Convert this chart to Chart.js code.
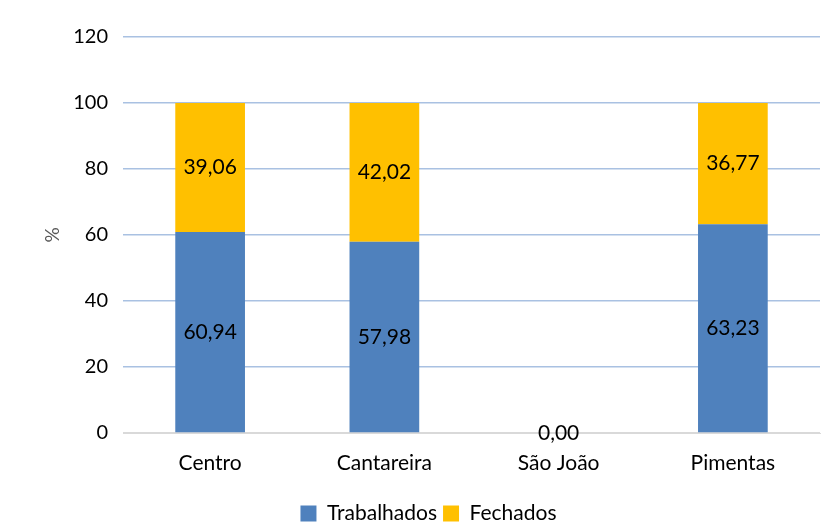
<!DOCTYPE html>
<html>
<head>
<meta charset="utf-8">
<script src="https://cdn.jsdelivr.net/npm/chart.js@4"></script>
<style>
  html, body { margin: 0; padding: 0; background: #fff; }
  #wrap { width: 829px; height: 527px; }
</style>
</head>
<body>
<div id="wrap"><canvas id="grafico"></canvas></div>
<script>
/* Dados */
const categorias = ["Centro", "Cantareira", "São João", "Pimentas"];
const trabalhados = [60.94, 57.98, 0, 63.23];
const fechados = [39.06, 42.02, 0, 36.77];
const ticksY = [0, 20, 40, 60, 80, 100, 120];

const fonte = "Lato, 'Open Sans', sans-serif";

/* rótulos dentro das barras */
const rotulos = {
  id: "rotulos",
  afterDatasetsDraw(chart) {
    const ctx = chart.ctx;
    ctx.save();
    ctx.font = "21px " + fonte;
    ctx.fillStyle = "#000";
    ctx.textAlign = "center";
    ctx.textBaseline = "middle";
    chart.data.datasets.forEach((ds, i) => {
      const meta = chart.getDatasetMeta(i);
      meta.data.forEach((bar, j) => {
        const v = ds.data[j];
        if (i === 1 && v === 0) return; // evita repetir 0,00
        const y = (bar.y + bar.base) / 2;
        ctx.fillText(v.toFixed(2).replace(".", ","), bar.x, y);
      });
    });
    ctx.restore();
  }
};

new Chart(document.getElementById("grafico"), {
  type: "bar",
  data: {
    labels: categorias,
    datasets: [
      { label: "Trabalhados", data: trabalhados, backgroundColor: "#4F81BD", barPercentage: 0.4, categoryPercentage: 1 },
      { label: "Fechados", data: fechados, backgroundColor: "#FFC000", barPercentage: 0.4, categoryPercentage: 1 }
    ]
  },
  options: {
    responsive: true,
    maintainAspectRatio: false,
    animation: false,
    layout: { padding: { top: 37, right: 9, left: 37, bottom: -7 } },
    plugins: {
      legend: {
        position: "bottom",
        labels: { font: { family: fonte, size: 21 }, color: "#000", boxWidth: 16, boxHeight: 16, padding: 6 }
      },
      tooltip: { enabled: false }
    },
    scales: {
      x: {
        stacked: true,
        grid: { display: false },
        border: { color: "#D9D9D9" },
        afterFit: (axis) => { axis.height = 64; },
        ticks: { font: { family: fonte, size: 21 }, color: "#000", padding: 10 }
      },
      y: {
        stacked: true,
        min: 0,
        max: 120,
        afterBuildTicks: (axis) => { axis.ticks = ticksY.map(v => ({ value: v })); },
        afterFit: (axis) => { axis.width = 86; },
        border: { display: false },
        grid: { color: (c) => c.tick && c.tick.value === 0 ? "#D9D9D9" : "#A9C1E2", lineWidth: 1.4, tickLength: 0 },
        ticks: { font: { family: fonte, size: 20 }, color: "#000", padding: 15 },
        title: { display: true, text: "%", font: { family: fonte, size: 19 }, color: "#595959" }
      }
    }
  },
  plugins: [rotulos]
});
</script>
</body>
</html>
